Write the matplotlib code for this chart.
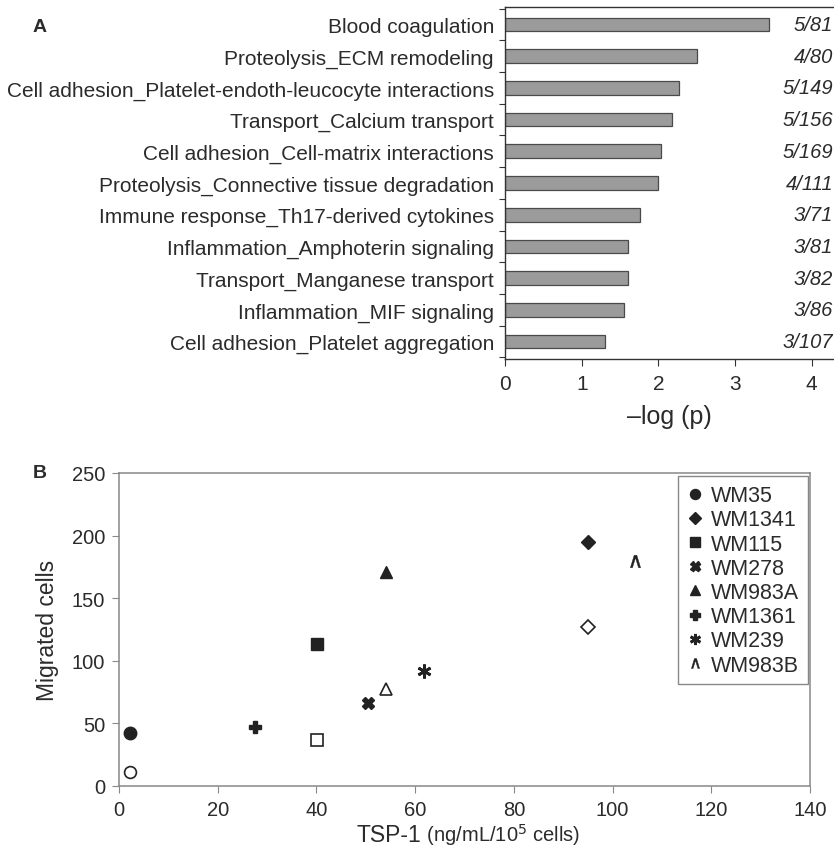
import matplotlib
matplotlib.use("Agg")
import matplotlib.pyplot as plt
from matplotlib import font_manager

# ---------------- data ----------------
pathways = [
    "Blood coagulation",
    "Proteolysis_ECM remodeling",
    "Cell adhesion_Platelet-endoth-leucocyte interactions",
    "Transport_Calcium transport",
    "Cell adhesion_Cell-matrix interactions",
    "Proteolysis_Connective tissue degradation",
    "Immune response_Th17-derived cytokines",
    "Inflammation_Amphoterin signaling",
    "Transport_Manganese transport",
    "Inflammation_MIF signaling",
    "Cell adhesion_Platelet aggregation",
]
neglogp = [3.44, 2.50, 2.27, 2.18, 2.03, 1.99, 1.76, 1.61, 1.60, 1.55, 1.31]
ratios = ["5/81", "4/80", "5/149", "5/156", "5/169", "4/111",
          "3/71", "3/81", "3/82", "3/86", "3/107"]
a_xticks = [0, 1, 2, 3, 4]

cell_lines = ["WM35", "WM1341", "WM115", "WM278", "WM983A", "WM1361", "WM239", "WM983B"]
tsp_filled = [2.3, 95.1, 40.2, 50.5, 54.1, 27.5, 61.8, 104.6]
mig_filled = [42.6, 194.6, 113.3, 66.6, 170.6, 47.4, 92.0, 180.0]

open_lines = ["WM35", "WM1341", "WM115", "WM983A"]
tsp_open = [2.3, 95.1, 40.2, 54.1]
mig_open = [11.5, 126.6, 36.5, 77.8]

b_xticks = [0, 20, 40, 60, 80, 100, 120, 140]
b_yticks = [0, 50, 100, 150, 200, 250]

# ---------------- fonts ----------------
names = {f.name for f in font_manager.fontManager.ttflist}
NARROW = "Liberation Sans Narrow" if "Liberation Sans Narrow" in names else "Liberation Sans"
REG = "Liberation Sans"
TXT = "#2b2b2b"

fig = plt.figure(figsize=(8.34, 8.54), dpi=100)

# ---------------- Panel A ----------------
axA = fig.add_axes([505/834, 1-360/854, 1-505/834, (360-8)/854])
n = len(pathways)
ypos = list(range(n))
axA.barh(ypos, neglogp, height=0.43, color="#9b9b9b", edgecolor="#4a4a4a", linewidth=0.9)
axA.set_ylim(n - 0.45, -0.55)
axA.set_xlim(0, (834-505)/76.7)
axA.set_yticks([i - 0.5 for i in range(n + 1)])
axA.set_yticklabels([])
axA.set_yticks(ypos, minor=True)
axA.set_yticklabels(pathways, minor=True, fontfamily=NARROW, fontsize=15, color=TXT)
axA.tick_params(axis="y", which="minor", length=0, pad=8)
axA.tick_params(axis="y", which="major", length=4, direction="out", color="#333")
axA.set_xticks(a_xticks)
axA.set_xticklabels([str(t) for t in a_xticks], fontfamily=NARROW, fontsize=15, color=TXT)
axA.tick_params(axis="x", length=5, direction="out", pad=6, color="#333")
axA.spines["right"].set_visible(False)
for s in ["left", "bottom", "top"]:
    axA.spines[s].set_color("#333")
    axA.spines[s].set_linewidth(1.0)
for i, r in enumerate(ratios):
    axA.text(0.997, i, r, transform=axA.get_yaxis_transform(), ha="right", va="center",
             fontsize=14.5, style="italic", fontfamily=NARROW, color=TXT)
axA.set_xlabel("\u2013log (p)", fontfamily=NARROW, fontsize=18, color=TXT, labelpad=8)
fig.text(40/834, 1-27/854, "A", fontsize=14, fontweight="bold", fontfamily=REG,
         color=TXT, ha="center", va="center")

# ---------------- Panel B ----------------
axB = fig.add_axes([119/834, 1-787/854, (810-119)/834, (787-474)/854])
axB.set_xlim(0, 140)
axB.set_ylim(0, 250)
mk = ["o", "D", "s", "X", "^", "P", (6, 2, 0), r"$\wedge$"]
ms = [9, 7.5, 8.5, 9, 9, 9, 10, 9]
col = "#222222"
for name, x, y, m, s in zip(cell_lines, tsp_filled, mig_filled, mk, ms):
    kw = dict(color=col, markersize=s, linestyle="none", label=name)
    if m == (6, 2, 0):
        kw.update(markeredgewidth=2.0)
    if isinstance(m, str) and m.startswith("$"):
        kw.update(markeredgewidth=0.3)
    axB.plot([x], [y], marker=m, **kw)

open_mk = {"WM35": "o", "WM1341": "D", "WM115": "s", "WM983A": "^"}
for name, x, y in zip(open_lines, tsp_open, mig_open):
    m = open_mk[name]
    axB.plot([x], [y], marker=m, markerfacecolor="white", markeredgecolor=col,
             markeredgewidth=1.2, markersize=8.5 if m != "D" else 7.5, linestyle="none")

axB.set_xticks(b_xticks)
axB.set_yticks(b_yticks)
axB.set_xticklabels([str(t) for t in b_xticks], fontfamily=NARROW, fontsize=14.5, color=TXT)
axB.set_yticklabels([str(t) for t in b_yticks], fontfamily=NARROW, fontsize=14.5, color=TXT)
axB.tick_params(length=5, direction="out", color="#888", pad=5)
for s in axB.spines.values():
    s.set_color("#888")
    s.set_linewidth(1.1)
axB.set_ylabel("Migrated cells", fontfamily=REG, fontsize=16.5, color=TXT, labelpad=9)

leg = axB.legend(loc="upper right", bbox_to_anchor=(0.997, 0.989), frameon=True,
                 fancybox=False, edgecolor="#888", framealpha=1,
                 prop={"family": REG, "size": 15.5}, labelspacing=0.15,
                 handlelength=0.8, handletextpad=0.35, borderpad=0.4, markerscale=0.8,
                 borderaxespad=0)
for t in leg.get_texts():
    t.set_color(TXT)
leg.get_frame().set_linewidth(1.0)

# x label in two sizes
fig.canvas.draw()
r = fig.canvas.get_renderer()
t1 = fig.text(0, 0, "TSP-1", fontfamily=NARROW, fontsize=16.5, color=TXT)
t2 = fig.text(0, 0, " (ng/mL/10$^{5}$ cells)", fontfamily=NARROW, fontsize=14.5, color=TXT)
w1 = t1.get_window_extent(r).width
w2 = t2.get_window_extent(r).width
W = fig.bbox.width
xc = 468
y_base = 1 - 842/854
t1.set_position(((xc - (w1 + w2)/2)/W, y_base))
t2.set_position(((xc - (w1 + w2)/2 + w1)/W, y_base))

fig.text(40/834, 1-474/854, "B", fontsize=14, fontweight="bold", fontfamily=REG,
         color=TXT, ha="center", va="center")

fig.savefig("out.png", dpi=100)
